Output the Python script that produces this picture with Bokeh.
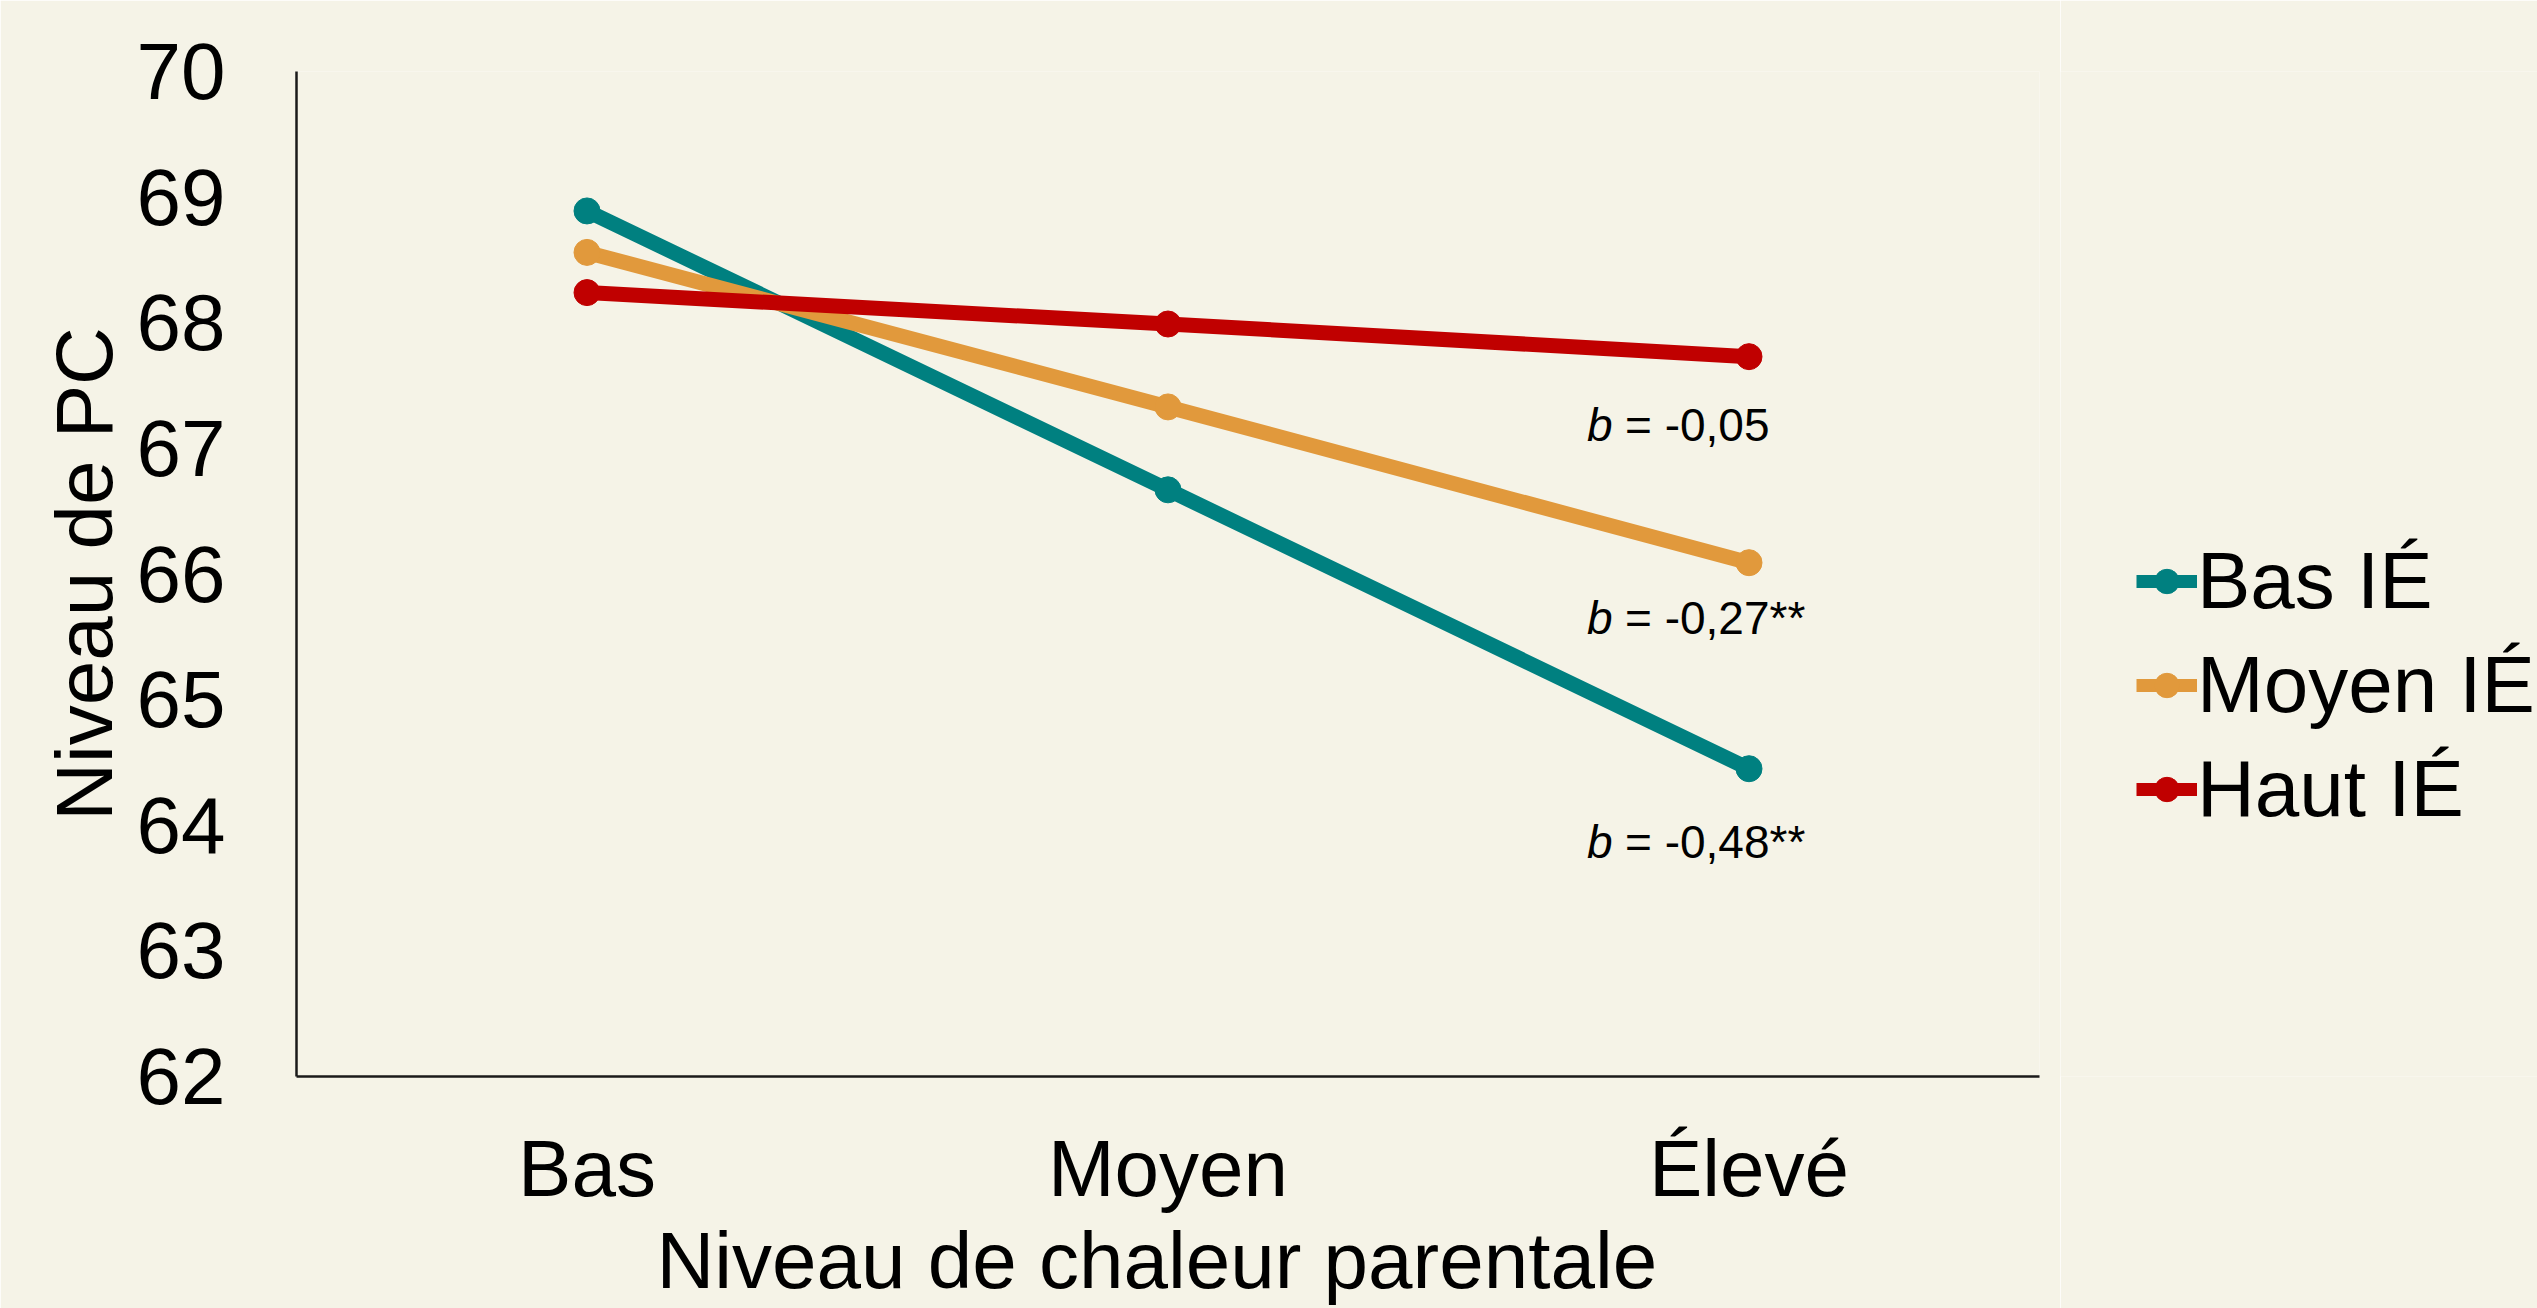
from bokeh.plotting import figure
from bokeh.layouts import row
from bokeh.models import FactorRange, Legend, LegendItem, SingleIntervalTicker, ColumnDataSource
from bokeh.core.properties import value
from bokeh.embed import file_html
from bokeh.resources import INLINE

# ---- data ----
categories = ["Bas", "Moyen", "Élevé"]
series_names = ["Bas IÉ", "Moyen IÉ", "Haut IÉ"]
bas_ie = [68.89, 66.67, 64.45]
moyen_ie = [68.56, 67.33, 66.09]
haut_ie = [68.24, 67.99, 67.73]
series_colors = ["#008080", "#E1993C", "#C00000"]

slope_labels = ["= -0,05", "= -0,27**", "= -0,48**"]
slope_label_y = [67.19, 65.65, 63.87]

y_ticks_min, y_ticks_max = 62, 70

BG = "#F5F3E7"
FONT = "Liberation Sans"

MAIN_W = 2060
TOTAL_W, TOTAL_H = 2537, 1308

p = figure(
    width=MAIN_W, height=TOTAL_H,
    x_range=FactorRange(*categories, range_padding=0),
    y_range=(y_ticks_min, y_ticks_max),
    output_backend="svg", toolbar_location=None,
    background_fill_color=BG, border_fill_color=BG,
    min_border_left=296, min_border_right=MAIN_W - 2039,
    min_border_top=71, min_border_bottom=232,
)
p.outline_line_color = None
p.grid.visible = False

# axes
for ax in (p.xaxis[0], p.yaxis[0]):
    ax.axis_line_color = "#1a1a1a"
    ax.axis_line_width = 2.5
    ax.major_tick_line_color = None
    ax.minor_tick_line_color = None
    ax.major_tick_out = 0
    ax.major_tick_in = 0
    ax.minor_tick_out = 0
    ax.minor_tick_in = 0
    ax.major_label_text_font = FONT
    ax.major_label_text_font_size = "80px"
    ax.major_label_text_color = "black"
    ax.axis_label_text_font = FONT
    ax.axis_label_text_font_size = "80px"
    ax.axis_label_text_font_style = "normal"
    ax.axis_label_text_color = "black"

p.yaxis[0].ticker = SingleIntervalTicker(interval=1)
p.yaxis[0].major_label_standoff = 71
p.yaxis[0].axis_label = "Niveau de PC"
p.yaxis[0].axis_label_standoff = 5

p.xaxis[0].major_label_standoff = 47
p.xaxis[0].axis_label = "Niveau de  chaleur parentale"
p.xaxis[0].axis_label_standoff = 0

sources = []
for name, vals, col in zip(series_names, [bas_ie, moyen_ie, haut_ie], series_colors):
    src = ColumnDataSource(dict(x=categories, y=vals))
    sources.append(src)
    p.line("x", "y", source=src, line_color=col, line_width=15)
    p.scatter("x", "y", source=src, marker="circle", size=26,
              fill_color=col, line_color=col)

# slope annotations
ann_x = [categories[-1]] * len(slope_labels)
src_b = ColumnDataSource(dict(x=ann_x, y=slope_label_y, t=["b"] * len(slope_labels)))
src_r = ColumnDataSource(dict(x=ann_x, y=slope_label_y, t=slope_labels))
p.text("x", "y", text="t", source=src_b, x_offset=-162,
       text_font=value(FONT), text_font_style="italic", text_font_size="46px",
       text_color="black", text_align="left", text_baseline="alphabetic")
p.text("x", "y", text="t", source=src_r, x_offset=-124,
       text_font=value(FONT), text_font_size="46px",
       text_color="black", text_align="left", text_baseline="alphabetic")

# legend panel: separate figure to the right; its glyphs share the data but
# lie outside its visible y-range, so only the legend shows
pl = figure(
    width=TOTAL_W - MAIN_W, height=TOTAL_H,
    x_range=FactorRange(*categories, range_padding=0),
    y_range=(0, 1),
    output_backend="svg", toolbar_location=None,
    x_axis_location=None, y_axis_location=None,
    background_fill_color=BG, border_fill_color=BG,
    min_border_left=0, min_border_right=0, min_border_top=0, min_border_bottom=0,
)
pl.outline_line_color = None
pl.grid.visible = False
items = []
for name, col, src in zip(series_names, series_colors, sources):
    r1 = pl.line("x", "y", source=src, line_color=col, line_width=13)
    r2 = pl.scatter("x", "y", source=src, marker="circle", size=26,
                    fill_color=col, line_color=col)
    items.append(LegendItem(label=name, renderers=[r1, r2]))

legend = Legend(items=items, location=(2136 - MAIN_W, 241),
                padding=0, margin=0, spacing=12,
                glyph_width=61, glyph_height=64, label_standoff=0,
                label_text_font=FONT, label_text_font_size="80px",
                label_text_color="black",
                border_line_alpha=0, background_fill_alpha=0)
pl.add_layout(legend, "center")

layout = row(p, pl, spacing=0)
html = file_html(layout, INLINE)
html = html.replace("<body>", '<body style="background:%s;">' % BG, 1)
open("out.html", "w").write(html)
